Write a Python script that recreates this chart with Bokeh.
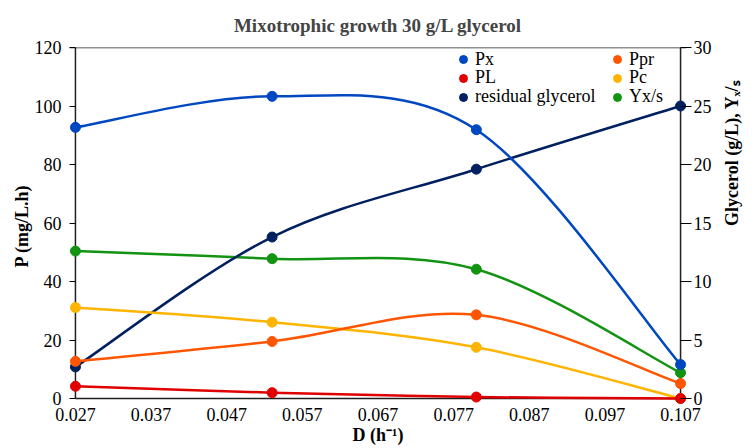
import math
from bokeh.plotting import figure
from bokeh.models import (Range1d, LinearAxis, FixedTicker, PrintfTickFormatter,
                          Legend, LegendItem)
from bokeh.embed import file_html
from bokeh.resources import INLINE

# ---- data ----
D = [0.027, 0.053, 0.080, 0.107]
Px = [92.7, 103.3, 91.9, 11.6]
Ppr = [12.7, 19.5, 28.6, 5.1]
PL = [4.2, 2.0, 0.5, 0.0]
Pc = [31.1, 26.1, 17.5, 0.0]
glycerol = [2.7, 13.8, 19.6, 25.0]   # right axis
Yxs = [12.6, 11.95, 11.05, 2.2]      # right axis

x_ticks = [0.027, 0.037, 0.047, 0.057, 0.067, 0.077, 0.087, 0.097, 0.107]
left_ticks = [0, 20, 40, 60, 80, 100, 120]
right_ticks = [0, 5, 10, 15, 20, 25, 30]

FONT_B = "Liberation Serif"
FONT_N = "'Liberation Serif'"

W, H = 754, 448
BL, BR, BT, BB = 69, 63, 46, 44          # borders around the frame
PADPX = 6                                 # room so edge markers are not clipped
fw = W - BL - BR - 2 * PADPX
fh_total = H - BT - BB
fh = fh_total - PADPX
dx = PADPX * (x_ticks[-1] - x_ticks[0]) / fw
dy = PADPX * (left_ticks[-1] - left_ticks[0]) / fh
ratio = (right_ticks[-1] - right_ticks[0]) / (left_ticks[-1] - left_ticks[0])

p = figure(width=W, height=H, output_backend="svg", toolbar_location=None,
           x_range=Range1d(x_ticks[0] - dx, x_ticks[-1] + dx),
           y_range=Range1d(left_ticks[0] - dy, left_ticks[-1]),
           min_border_left=BL, min_border_right=BR, min_border_top=BT,
           min_border_bottom=BB)
p.title.text = "Mixotrophic growth 30 g/L glycerol"
p.title.text_font = FONT_B
p.title.text_font_size = "19px"
p.title.text_font_style = "bold"
p.title.align = "center"
p.title.standoff = 24

p.xgrid.visible = False
p.ygrid.visible = False
p.outline_line_color = None
p.background_fill_color = "white"
p.border_fill_color = "white"

xa = p.below[0]
ya = p.left[0]

p.extra_y_ranges = {"right": Range1d((left_ticks[0] - dy) * ratio, right_ticks[-1])}
raxis = LinearAxis(y_range_name="right")
p.add_layout(raxis, "right")

for ax in [xa, ya, raxis]:
    ax.major_label_text_font = FONT_N
    ax.major_label_text_font_size = "18px"
    ax.major_label_text_color = "black"
    ax.axis_label_text_font = FONT_B
    ax.axis_label_text_font_size = "18px"
    ax.axis_label_text_font_style = "bold"
    ax.axis_label_text_color = "black"
    ax.minor_tick_line_color = None
    ax.axis_line_color = None
    ax.major_tick_line_color = "black"
    ax.major_tick_line_width = 1.2

xa.ticker = FixedTicker(ticks=x_ticks)
xa.formatter = PrintfTickFormatter(format="%.3f")
xa.major_tick_out = 0
xa.major_tick_in = 0
xa.major_tick_line_color = None
xa.major_label_standoff = 3
xa.axis_label = "D (h⁻¹)"
xa.axis_label_standoff = 1

ya.ticker = FixedTicker(ticks=left_ticks)
ya.major_tick_in = PADPX
ya.major_tick_out = 0
ya.major_label_standoff = 8
ya.axis_label = "P (mg/L.h)"
ya.axis_label_standoff = 0

raxis.ticker = FixedTicker(ticks=right_ticks)
raxis.major_tick_in = PADPX
raxis.major_tick_out = 5
raxis.major_label_standoff = 2
raxis.axis_label = "Glycerol (g/L), Yₓ/ₛ"
raxis.axis_label_standoff = 17
if hasattr(raxis, "axis_label_orientation"):
    raxis.axis_label_orientation = math.pi / 2

# axis lines at the tick extremes (left, right, bottom, top)
p.segment(x0=[x_ticks[0], x_ticks[-1], x_ticks[0], x_ticks[0] - dx],
          y0=[left_ticks[0], left_ticks[0], left_ticks[0], left_ticks[-1]],
          x1=[x_ticks[0], x_ticks[-1], x_ticks[-1], x_ticks[-1] + dx],
          y1=[left_ticks[-1], left_ticks[-1], left_ticks[0], left_ticks[-1]],
          line_color="#202020", line_width=1.5)


def smooth(xs, ys):
    """Excel-like smoothed line as cubic Bezier segments through the data."""
    n = len(xs)
    out = dict(x0=[], y0=[], x1=[], y1=[], cx0=[], cy0=[], cx1=[], cy1=[])
    for i in range(n - 1):
        a = i - 1 if i > 0 else i
        b = i + 2 if i + 2 < n else i + 1
        out["x0"].append(xs[i]); out["y0"].append(ys[i])
        out["x1"].append(xs[i + 1]); out["y1"].append(ys[i + 1])
        out["cx0"].append(xs[i] + (xs[i + 1] - xs[a]) / 6)
        out["cy0"].append(ys[i] + (ys[i + 1] - ys[a]) / 6)
        out["cx1"].append(xs[i + 1] - (xs[b] - xs[i]) / 6)
        out["cy1"].append(ys[i + 1] - (ys[b] - ys[i]) / 6)
    return out


series = [
    ("Px", Px, "#0047c2", "default"),
    ("Ppr", Ppr, "#ff5500", "default"),
    ("PL", PL, "#e00000", "default"),
    ("Pc", Pc, "#ffb400", "default"),
    ("residual glycerol", glycerol, "#00205f", "right"),
    ("Yx/s", Yxs, "#129312", "right"),
]

items = {}
draw_order = [5, 4, 3, 1, 0, 2]
for idx in draw_order:
    name, ys, col, rng = series[idx]
    seg = smooth(D, ys)
    p.bezier(x0="x0", y0="y0", x1="x1", y1="y1", cx0="cx0", cy0="cy0",
             cx1="cx1", cy1="cy1", source=seg, line_color=col, line_width=2.5,
             y_range_name=rng)
    lr = p.line(x=[], y=[], line_color=col, line_width=2.5, y_range_name=rng)
    sr = p.scatter(x=D, y=ys, size=10, fill_color=col, line_color=col,
                   y_range_name=rng)
    items[name] = LegendItem(label=name, renderers=[lr, sr])

ROW_H = 22
leg_kw = dict(border_line_color=None, background_fill_alpha=0, padding=0,
              margin=0, spacing=0, label_height=ROW_H, glyph_height=ROW_H,
              glyph_width=20, label_standoff=2, label_text_font=FONT_N,
              label_text_font_size="18px", label_text_color="black")

# one legend per entry so rows sit exactly as in the reference (2 columns x 3 rows)
legend_layout = [("Px", 0, 0), ("Ppr", 1, 0), ("PL", 0, 1), ("Pc", 1, 1),
                 ("residual glycerol", 0, 2), ("Yx/s", 1, 2)]
col_x = [384, 538]                 # px from the frame's left edge
row_top = [13, 31.5, 50.5]         # px from the frame's top edge (row centres)
for name, c, r in legend_layout:
    vy = fh_total - row_top[r] - ROW_H / 2
    p.add_layout(Legend(items=[items[name]], location=(col_x[c], vy), **leg_kw))

open("out.html", "w").write(file_html(p, INLINE))
